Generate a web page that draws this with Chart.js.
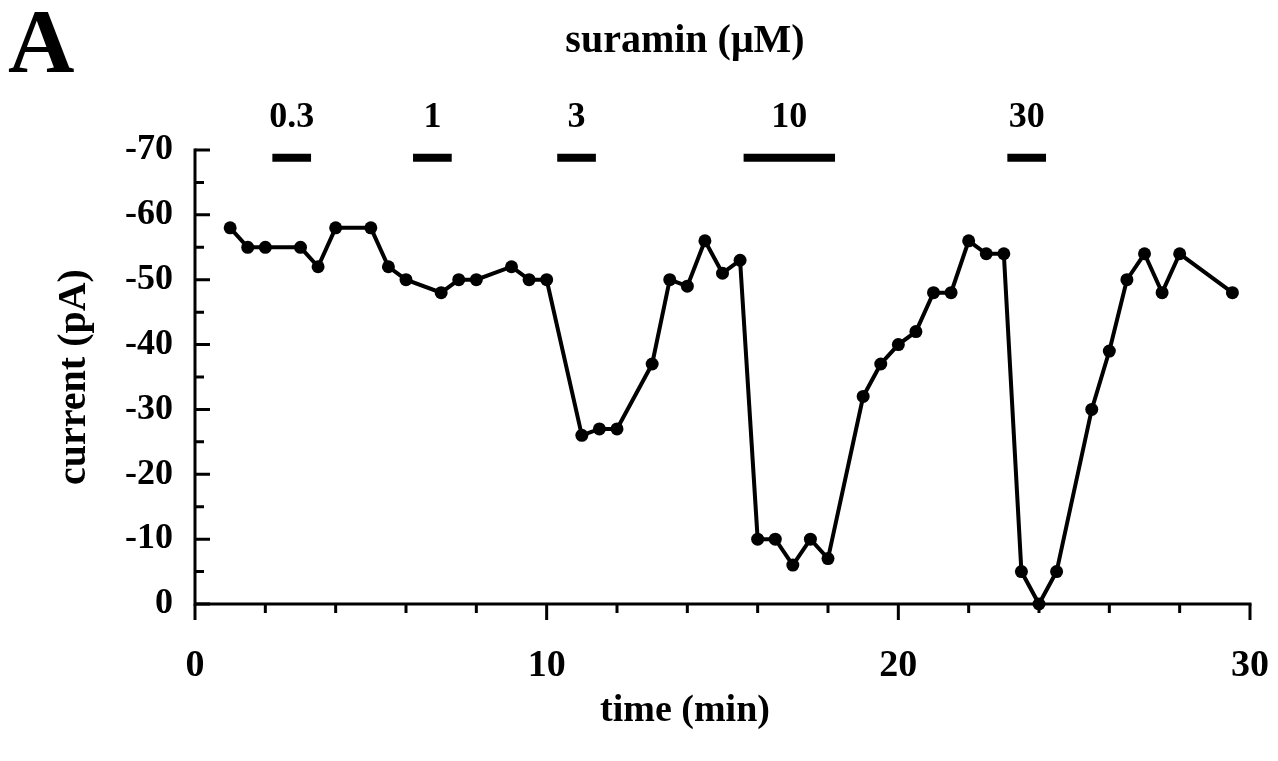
<!DOCTYPE html>
<html>
<head>
<meta charset="utf-8">
<script src="https://cdn.jsdelivr.net/npm/chart.js@4.4.0/dist/chart.umd.min.js"></script>
<style>
  html, body { margin: 0; padding: 0; background: #fff; }
  #wrap { width: 1278px; height: 761px; }
</style>
</head>
<body>
<div id="wrap"><canvas id="chart"></canvas></div>
<script>
// Data
const timeMin = [1, 1.5, 2, 3, 3.5, 4, 5, 5.5, 6, 7, 7.5, 8, 9, 9.5, 10, 11, 11.5, 12, 13, 13.5,
  14, 14.5, 15, 15.5, 16, 16.5, 17, 17.5, 18, 19, 19.5, 20, 20.5, 21, 21.5, 22, 22.5, 23, 23.5, 24,
  24.5, 25.5, 26, 26.5, 27, 27.5, 28, 29.5];
const currentPA = [-58, -55, -55, -55, -52, -58, -58, -52, -50, -48, -50, -50, -52, -50, -50, -26, -27, -27, -37, -50,
  -49, -56, -51, -53, -10, -10, -6, -10, -7, -32, -37, -40, -42, -48, -48, -56, -54, -54, -5, 0,
  -5, -30, -39, -50, -54, -48, -54, -48];

// suramin applications (start / end in min)
const suraminConc = ['0.3', '1', '3', '10', '30'];
const suraminStart = [2.2, 6.2, 10.3, 15.6, 23.1];
const suraminEnd = [3.3, 7.3, 11.4, 18.2, 24.2];

const xTickLabels = [0, 10, 20, 30];
const yTickLabels = [-70, -60, -50, -40, -30, -20, -10, 0];

const FONT = '"Liberation Serif", "Times New Roman", serif';
const barLevel = -68.8;

// one short thick line per suramin application
const barSets = suraminConc.map((c, i) => ({
  label: c + ' uM',
  data: [{ x: suraminStart[i], y: barLevel }, { x: suraminEnd[i], y: barLevel }],
  showLine: true,
  borderColor: '#000',
  borderWidth: 8,
  borderCapStyle: 'butt',
  pointRadius: 0,
  clip: false
}));

// draws axis lines, tick marks and the extra labels
const axisPlugin = {
  id: 'axisPlugin',
  afterDraw(chart) {
    const ctx = chart.ctx;
    const xs = chart.scales.x, ys = chart.scales.y;
    const x0 = xs.getPixelForValue(0), y0 = ys.getPixelForValue(0);
    ctx.save();
    ctx.strokeStyle = '#000';
    ctx.lineWidth = 3;
    ctx.lineCap = 'square';
    ctx.beginPath();
    ctx.moveTo(x0, ys.getPixelForValue(-70));
    ctx.lineTo(x0, y0);
    ctx.lineTo(xs.getPixelForValue(30), y0);
    ctx.stroke();
    ctx.lineCap = 'butt';
    ctx.beginPath();
    for (let v = 0; v >= -70; v -= 5) {
      const p = ys.getPixelForValue(v);
      const len = v % 10 === 0 ? 15 : 9;
      ctx.moveTo(x0, p);
      ctx.lineTo(x0 + len, p);
    }
    for (let t = 0; t <= 30; t += 2) {
      const p = xs.getPixelForValue(t);
      const len = t % 10 === 0 ? 16 : 9;
      ctx.moveTo(p, y0);
      ctx.lineTo(p, y0 + len);
    }
    ctx.stroke();

    ctx.fillStyle = '#000';
    ctx.textAlign = 'left';
    ctx.textBaseline = 'alphabetic';
    ctx.font = 'bold 92px ' + FONT;
    ctx.fillText('A', 8, 72);

    ctx.textAlign = 'center';
    ctx.font = 'bold 40px ' + FONT;
    ctx.fillText('suramin (\u03BCM)', 685, 52);

    ctx.font = 'bold 36px ' + FONT;
    suraminConc.forEach((c, i) => {
      const mid = xs.getPixelForValue((suraminStart[i] + suraminEnd[i]) / 2);
      ctx.fillText(c, mid, 127);
    });

    // x axis title sits left of the plot centre in the original
    ctx.font = 'bold 38px ' + FONT;
    ctx.textBaseline = 'middle';
    ctx.fillText('time (min)', 685, 711);
    ctx.restore();
  }
};

new Chart(document.getElementById('chart'), {
  type: 'scatter',
  data: {
    datasets: [{
      label: 'current',
      data: timeMin.map((t, i) => ({ x: t, y: currentPA[i] })),
      showLine: true,
      borderColor: '#000',
      backgroundColor: '#000',
      borderWidth: 4,
      pointRadius: 6.5,
      pointBorderWidth: 0,
      clip: false
    }, ...barSets]
  },
  options: {
    responsive: true,
    maintainAspectRatio: false,
    animation: false,
    events: [],
    layout: { autoPadding: false, padding: { top: 150, right: 28, left: 0, bottom: 0 } },
    plugins: { legend: { display: false }, tooltip: { enabled: false } },
    scales: {
      x: {
        type: 'linear',
        min: 0, max: 30,
        grid: { display: false, drawTicks: false },
        border: { display: false },
        afterFit: s => { s.height = 157; s.paddingLeft = 0; s.paddingRight = 0; },
        afterBuildTicks: s => { s.ticks = xTickLabels.map(v => ({ value: v })); },
        ticks: { color: '#000', padding: 39, font: { family: FONT, size: 38, weight: 'bold' } },
        title: { display: false }
      },
      y: {
        type: 'linear',
        min: -70, max: 0,
        reverse: true,
        grid: { display: false, drawTicks: false },
        border: { display: false },
        afterFit: s => { s.width = 195; s.paddingTop = 0; s.paddingBottom = 0; },
        afterBuildTicks: s => { s.ticks = yTickLabels.map(v => ({ value: v })); },
        ticks: { color: '#000', padding: 22, font: { family: FONT, size: 36, weight: 'bold' } },
        title: { display: true, text: 'current (pA)', color: '#000', padding: { top: 51 },
          font: { family: FONT, size: 40, weight: 'bold' } }
      }
    }
  },
  plugins: [axisPlugin]
});
</script>
</body>
</html>
